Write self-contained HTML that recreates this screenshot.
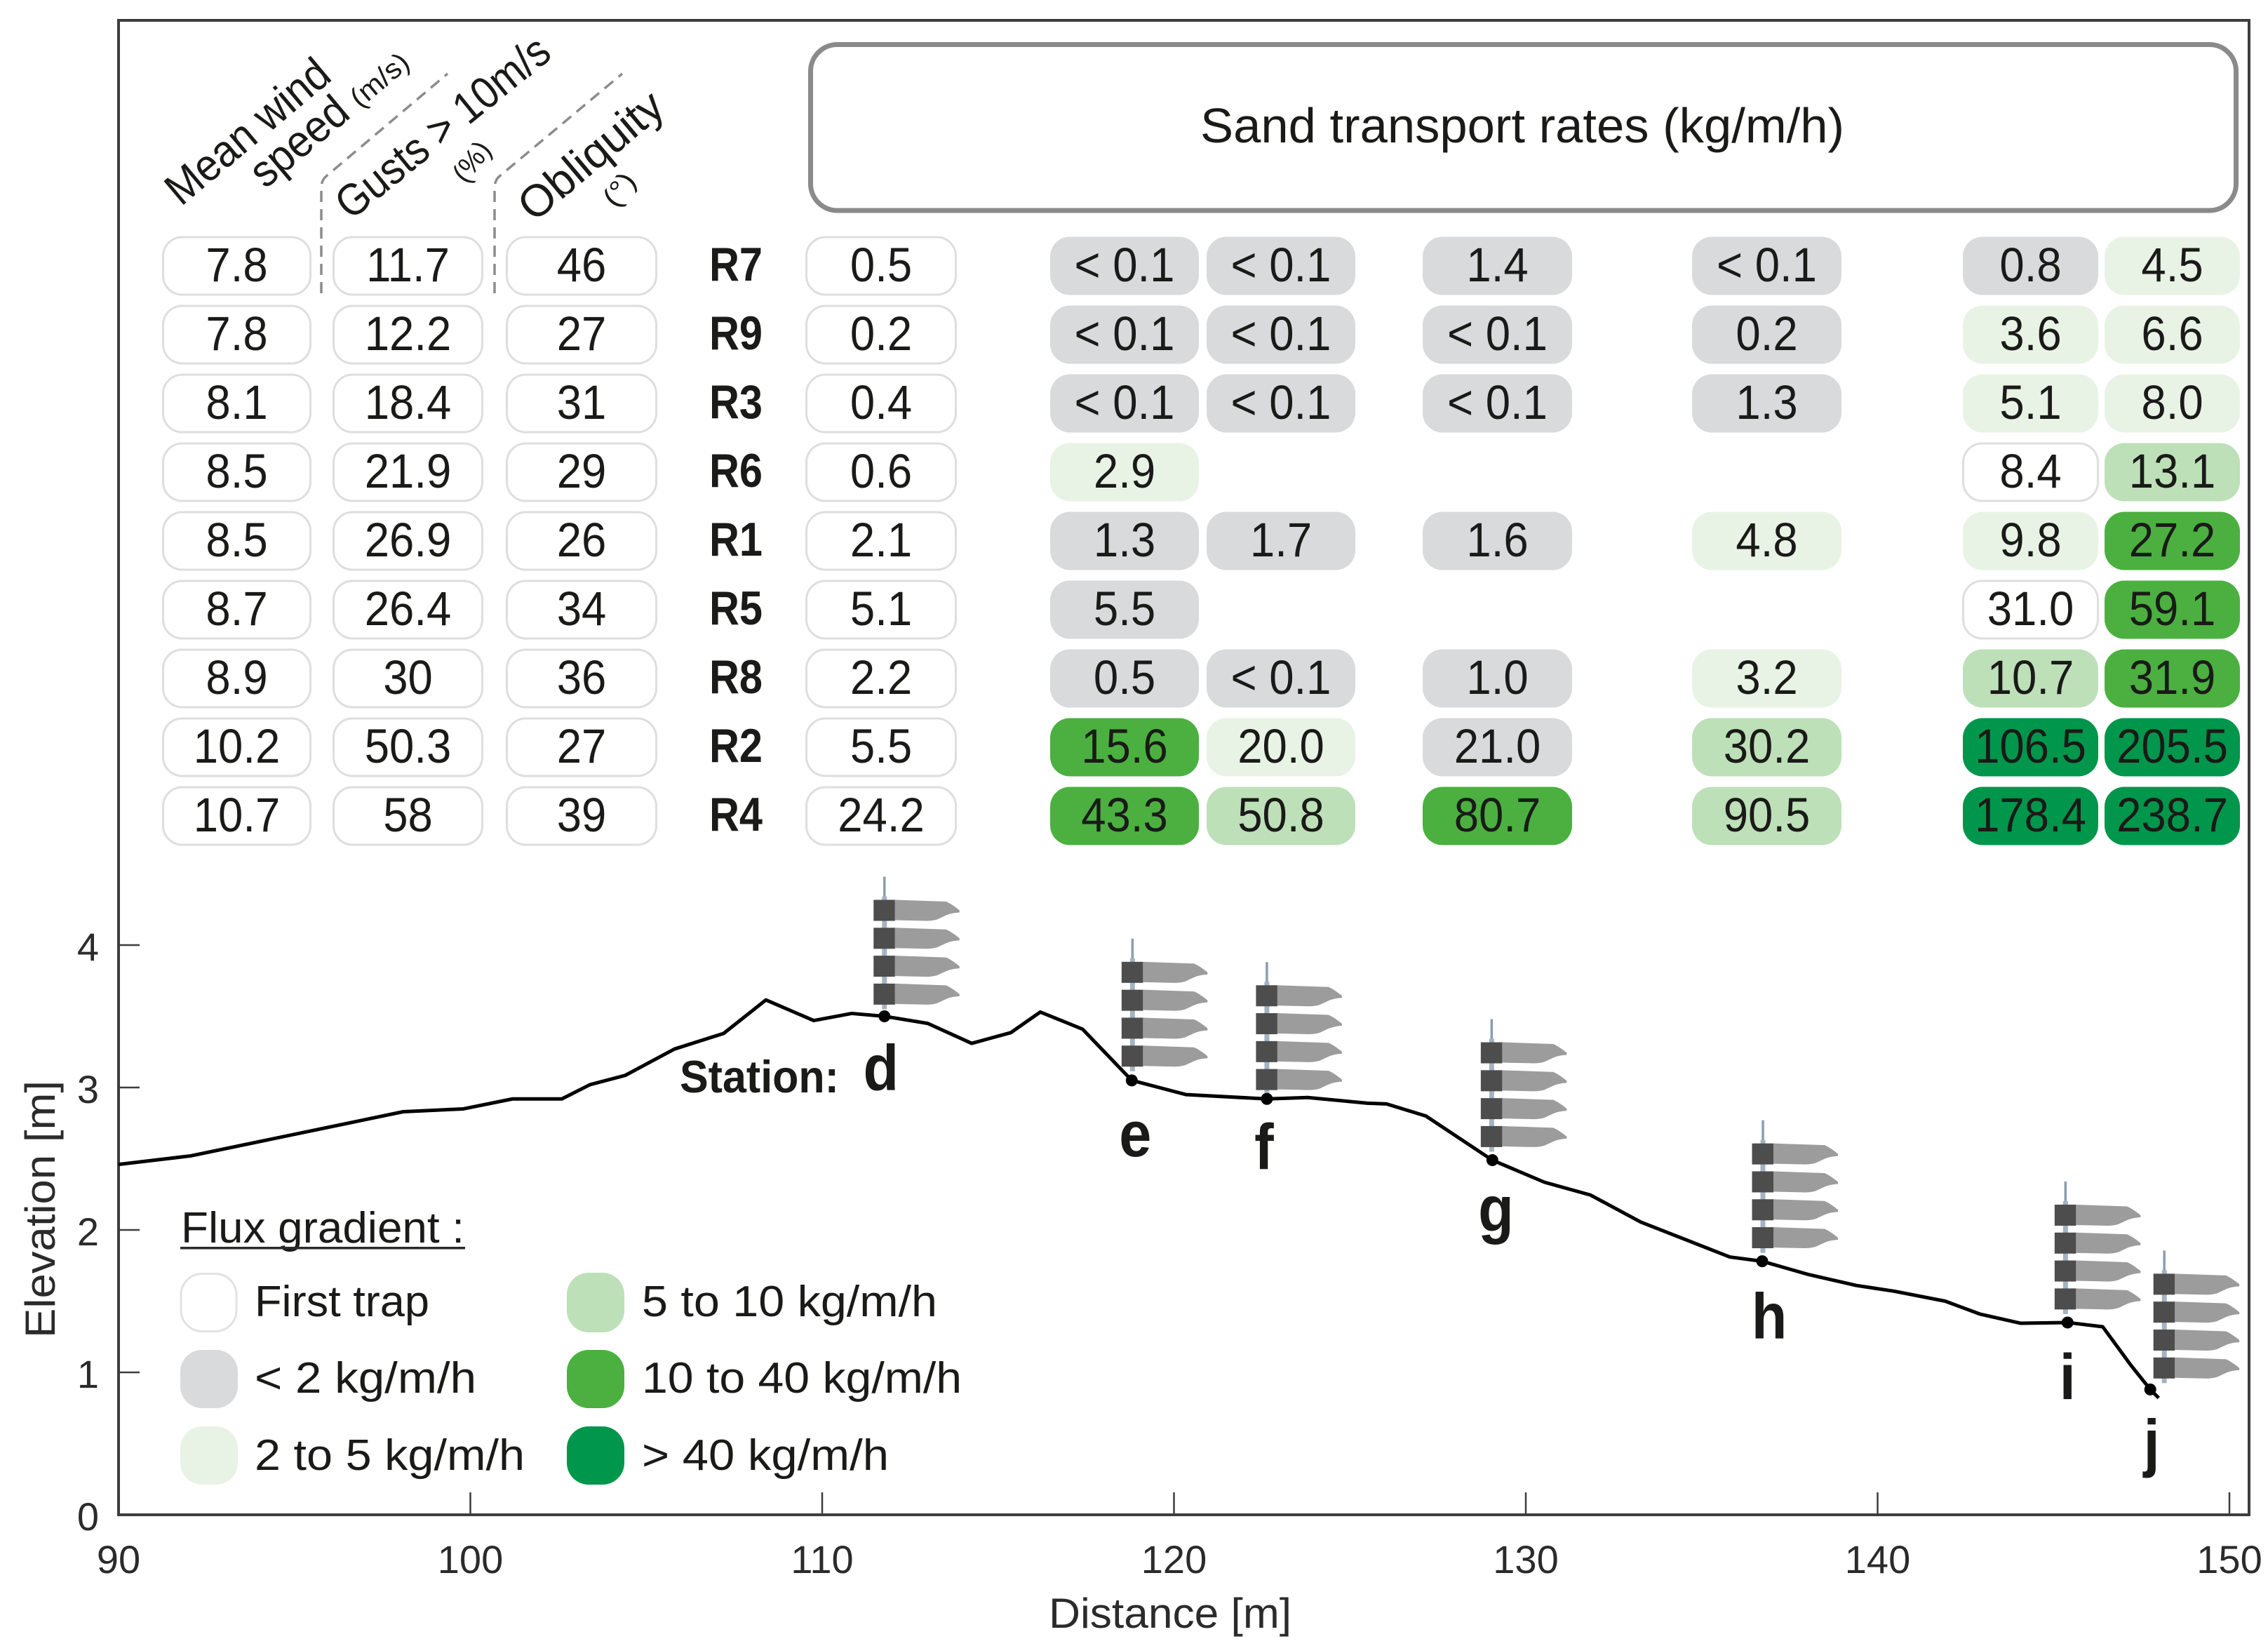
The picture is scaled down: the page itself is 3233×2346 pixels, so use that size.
<!DOCTYPE html>
<html lang="en">
<head>
<meta charset="utf-8">
<title>Sand transport rates along the profile</title>
<style>
  html, body { margin: 0; padding: 0; background: #ffffff; }
  svg { display: block; }
  text { font-family: "Liberation Sans", sans-serif; fill: #1a1a18; }
  .axis-num { font-size: 56px; fill: #2b2b2b; }
  .axis-title { font-size: 60px; fill: #2b2b2b; }
  .head { font-size: 64px; }
  .head-small { font-size: 40px; }
  .legend-text { font-size: 62px; }
</style>
</head>
<body>
<svg id="figure" xmlns="http://www.w3.org/2000/svg" width="3233" height="2346" viewBox="0 0 3233 2346">
  <rect x="0" y="0" width="3233" height="2346" fill="#ffffff"/>

  <!-- Frame -->
  <path d="M169,2159 V29 H3206 V2159 Z" fill="none" stroke="#3d3d3d" stroke-width="4"/>

  <!-- Rotated column headers -->
  <text class="head" transform="translate(258,295) rotate(-40)" textLength="284" lengthAdjust="spacingAndGlyphs">Mean wind</text>
  <text class="head" transform="translate(378,270) rotate(-40)" textLength="162" lengthAdjust="spacingAndGlyphs">speed</text>
  <text class="head-small" transform="translate(513,155) rotate(-40)" textLength="96" lengthAdjust="spacingAndGlyphs">(m/s)</text>
  <text class="head" transform="translate(500,315) rotate(-39)" textLength="372" lengthAdjust="spacingAndGlyphs">Gusts &gt; 10m/s</text>
  <text class="head-small" transform="translate(664,263) rotate(-52)" textLength="62" lengthAdjust="spacingAndGlyphs">(%)</text>
  <text class="head" transform="translate(761,318) rotate(-40)" textLength="248" lengthAdjust="spacingAndGlyphs">Obliquity</text>
  <text class="head-small" transform="translate(878,298) rotate(-52)" textLength="50" lengthAdjust="spacingAndGlyphs">(°)</text>

  <path d="M458,418 V268 Q458,258 464,252 L638,105" fill="none" stroke="#8c8c8c" stroke-width="3.5" stroke-dasharray="16 10"/>
  <path d="M705,418 V268 Q705,258 711,252 L887,105" fill="none" stroke="#8c8c8c" stroke-width="3.5" stroke-dasharray="16 10"/>

  <!-- Sand transport title box -->
  <rect x="1155.5" y="63.5" width="2032" height="236.5" rx="38" ry="38" fill="#ffffff" stroke="#8a8a8a" stroke-width="7"/>
  <text x="1711" y="203" font-size="70" textLength="918" lengthAdjust="spacingAndGlyphs">Sand transport rates (kg/m/h)</text>

  <!-- Table and chart marks, filled by the script -->
  <g id="table"></g>
  <g id="axes"></g>
  <g id="samplers"></g>
  <g id="profile"></g>

  <text x="969" y="1557" font-size="65" font-weight="bold" textLength="227" lengthAdjust="spacingAndGlyphs">Station:</text>

  <text class="axis-title" x="1495" y="2320" textLength="346" lengthAdjust="spacingAndGlyphs">Distance [m]</text>
  <text class="axis-title" transform="translate(78,1907) rotate(-90)" textLength="367" lengthAdjust="spacingAndGlyphs">Elevation [m]</text>

  <!-- Legend -->
  <g>
    <text class="legend-text" x="258" y="1771" textLength="404" lengthAdjust="spacingAndGlyphs">Flux gradient :</text>
    <rect x="257" y="1777" width="406" height="3.5" fill="#2b2b2b"/>

    <g>
      <rect x="258" y="1815.5" width="79" height="82" rx="30" fill="#ffffff" stroke="#e2e2e2" stroke-width="3"/>
      <text class="legend-text" x="363" y="1876" textLength="249" lengthAdjust="spacingAndGlyphs">First trap</text>
    </g>
    <g>
      <rect x="257" y="1924" width="82" height="83" rx="31" fill="#d9dadb"/>
      <text class="legend-text" x="363" y="1985" textLength="316" lengthAdjust="spacingAndGlyphs">&lt; 2 kg/m/h</text>
    </g>
    <g>
      <rect x="257" y="2033" width="82" height="83" rx="31" fill="#e8f3e6"/>
      <text class="legend-text" x="363" y="2095" textLength="385" lengthAdjust="spacingAndGlyphs">2 to 5 kg/m/h</text>
    </g>
    <g>
      <rect x="808" y="1814" width="82" height="85" rx="31" fill="#bde0b8"/>
      <text class="legend-text" x="915" y="1876" textLength="421" lengthAdjust="spacingAndGlyphs">5 to 10 kg/m/h</text>
    </g>
    <g>
      <rect x="808" y="1924" width="82" height="83" rx="31" fill="#4bb040"/>
      <text class="legend-text" x="915" y="1985" textLength="456" lengthAdjust="spacingAndGlyphs">10 to 40 kg/m/h</text>
    </g>
    <g>
      <rect x="808" y="2033" width="82" height="83" rx="31" fill="#00964b"/>
      <text class="legend-text" x="915" y="2095" textLength="352" lengthAdjust="spacingAndGlyphs">&gt; 40 kg/m/h</text>
    </g>
  </g>
</svg>

<script>
// ---- Table data ----
const runLabels = ["R7", "R9", "R3", "R6", "R1", "R5", "R8", "R2", "R4"];
const meanWindSpeed = ["7.8", "7.8", "8.1", "8.5", "8.5", "8.7", "8.9", "10.2", "10.7"];
const gustsOver10 = ["11.7", "12.2", "18.4", "21.9", "26.9", "26.4", "30", "50.3", "58"];
const obliquity = ["46", "27", "31", "29", "26", "34", "36", "27", "39"];
const fluxD = ["0.5", "0.2", "0.4", "0.6", "2.1", "5.1", "2.2", "5.5", "24.2"];
const fluxE = ["< 0.1", "< 0.1", "< 0.1", "2.9", "1.3", "5.5", "0.5", "15.6", "43.3"];
const fluxF = ["< 0.1", "< 0.1", "< 0.1", null, "1.7", null, "< 0.1", "20.0", "50.8"];
const fluxG = ["1.4", "< 0.1", "< 0.1", null, "1.6", null, "1.0", "21.0", "80.7"];
const fluxH = ["< 0.1", "0.2", "1.3", null, "4.8", null, "3.2", "30.2", "90.5"];
const fluxI = ["0.8", "3.6", "5.1", "8.4", "9.8", "31.0", "10.7", "106.5", "178.4"];
const fluxJ = ["4.5", "6.6", "8.0", "13.1", "27.2", "59.1", "31.9", "205.5", "238.7"];

// Flux-gradient class of each cell: 0 first trap, 1 <2, 2 2-5, 3 5-10, 4 10-40, 5 >40
const gradientE = [1, 1, 1, 2, 1, 1, 1, 4, 4];
const gradientF = [1, 1, 1, null, 1, null, 1, 2, 3];
const gradientG = [1, 1, 1, null, 1, null, 1, 1, 4];
const gradientH = [1, 1, 1, null, 2, null, 2, 3, 3];
const gradientI = [1, 2, 2, 0, 2, 0, 3, 5, 5];
const gradientJ = [2, 2, 2, 3, 4, 4, 4, 5, 5];

// ---- Profile data ----
const profileDistance = [90, 92.05, 98.09, 99.8, 101.2, 102.6, 103.4, 104.4, 105.8, 107.2, 108.4, 109.76, 110.84, 111.77, 113, 114.25, 115.36, 116.2, 117.4, 118.8, 120.35, 122.64, 123.8, 125.5, 126.04, 127.16, 129.05, 130.53, 131.84, 133.27, 135.8, 136.72, 138.05, 139.4, 140.47, 141.92, 142.9, 144.06, 145.4, 146.4, 147.2, 147.75, 147.99];
const profileElevation = [2.46, 2.52, 2.83, 2.85, 2.92, 2.92, 3.02, 3.085, 3.27, 3.38, 3.615, 3.47, 3.52, 3.5, 3.45, 3.31, 3.385, 3.53, 3.41, 3.05, 2.95, 2.92, 2.93, 2.89, 2.885, 2.8, 2.49, 2.335, 2.245, 2.055, 1.81, 1.78, 1.686, 1.61, 1.57, 1.5, 1.41, 1.345, 1.35, 1.32, 1.05, 0.88, 0.82];

const stationNames = ["d", "e", "f", "g", "h", "i", "j"];
const stationDistance = [111.77, 118.8, 122.64, 129.05, 136.72, 145.4, 147.75];
const stationElevation = [3.5, 3.05, 2.92, 2.49, 1.78, 1.35, 0.88];

const xTickLabels = [90, 100, 110, 120, 130, 140, 150];
const yTickLabels = [0, 1, 2, 3, 4];

// ---- Axis functions ----
function sx(d) { return 169 + (d - 90) * 50.15; }
function sy(e) { return 2159 - e * 203; }

const NS = "http://www.w3.org/2000/svg";
function make(tag, parent) {
  const el = document.createElementNS(NS, tag);
  parent.appendChild(el);
  return el;
}
function setAll(el, attrs) {
  for (const k in attrs) el.setAttribute(k, attrs[k]);
}

// ---- Table ----
const gradientFill = ["#ffffff", "#d9dadb", "#e8f3e6", "#bde0b8", "#4bb040", "#00964b"];
const tableGroup = document.getElementById("table");

function rowCenter(i) { return 379 + i * 98; }

function drawCell(x0, x1, i, label, cls, name) {
  if (label === null) return;
  const cy = rowCenter(i);
  const g = make("g", tableGroup);
  
  
  const r = make("rect", g);
  
  
  if (cls === 0) {
    setAll(r, { x: x0 + 0.5, y: cy - 41, width: x1 - x0 - 1, height: 82, rx: 27, fill: "#ffffff", stroke: "#dedede", "stroke-width": 3 });
  } else {
    setAll(r, { x: x0, y: cy - 41.5, width: x1 - x0, height: 83, rx: 28, fill: gradientFill[cls] });
  }
  const t = make("text", g);
  
  
  setAll(t, { transform: "translate(" + ((x0 + x1) / 2) + "," + (cy + 22) + ") scale(0.92,1)", "text-anchor": "middle", "font-size": 69 });
  t.textContent = label;
}

const whiteColumns = [
  { from: 232, to: 443, values: meanWindSpeed, name: "mean-wind" },
  { from: 475, to: 688, values: gustsOver10, name: "gusts" },
  { from: 722, to: 936, values: obliquity, name: "obliquity" },
  { from: 1149, to: 1363, values: fluxD, name: "flux-d" }
];
const fluxColumns = [
  { from: 1497, to: 1709, values: fluxE, classes: gradientE, name: "flux-e" },
  { from: 1720, to: 1932, values: fluxF, classes: gradientF, name: "flux-f" },
  { from: 2028, to: 2241, values: fluxG, classes: gradientG, name: "flux-g" },
  { from: 2412, to: 2625, values: fluxH, classes: gradientH, name: "flux-h" },
  { from: 2798, to: 2991, values: fluxI, classes: gradientI, name: "flux-i" },
  { from: 3000, to: 3193, values: fluxJ, classes: gradientJ, name: "flux-j" }
];

whiteColumns.forEach(function (c) {
  c.values.forEach(function (v, i) { drawCell(c.from, c.to, i, v, 0, c.name); });
});
fluxColumns.forEach(function (c) {
  c.values.forEach(function (v, i) { drawCell(c.from, c.to, i, v, c.classes[i], c.name); });
});
runLabels.forEach(function (label, i) {
  const t = make("text", tableGroup);
  
  
  setAll(t, { transform: "translate(1049," + (rowCenter(i) + 21) + ") scale(0.875,1)", "text-anchor": "middle", "font-size": 68, "font-weight": "bold" });
  t.textContent = label;
});

// ---- Axes ----
const axesGroup = document.getElementById("axes");
xTickLabels.forEach(function (v) {
  const x = sx(v);
  const tick = make("line", axesGroup);
  
  
  setAll(tick, { x1: x, x2: x, y1: 2159, y2: 2127, stroke: "#3d3d3d", "stroke-width": 2.5 });
  const t = make("text", axesGroup);
  
  
  setAll(t, { class: "axis-num", x: x, y: 2242, "text-anchor": "middle" });
  t.textContent = v;
});
yTickLabels.forEach(function (v) {
  const y = sy(v);
  const tick = make("line", axesGroup);
  
  
  setAll(tick, { x1: 169, x2: 199, y1: y, y2: y, stroke: "#3d3d3d", "stroke-width": 2.5 });
  const t = make("text", axesGroup);
  
  
  setAll(t, { class: "axis-num", x: 141, y: y + 22, "text-anchor": "end" });
  t.textContent = v;
});

// ---- Sand trap stations ----
const samplerGroup = document.getElementById("samplers");
const tailShape = "M15,0 L88,2.5 Q96,6 107,15 L107,18 Q96,18.5 88,22 L75,28 Q68,30 60,30 L15,29 Z";
// Drawing nudges relative to each station's dot (layout, not data)
const samplerNudge = { d: [0, 199], e: [1, 202], f: [0, 195], g: [-1, 201], h: [1, 201], i: [-3, 201], j: [20, 198] };
const letterNudge = { d: [-5, 105], e: [5, 108], f: [-4, 100], g: [5, 101], h: [10, 110], i: [0, 109], j: [2, 107] };

stationNames.forEach(function (name, s) {
  const cx = sx(stationDistance[s]) + samplerNudge[name][0];
  const top = sy(stationElevation[s]) - samplerNudge[name][1];
  const g = make("g", samplerGroup);
  
  
  g.setAttribute("transform", "translate(" + cx + "," + top + ")");

  const pole = make("rect", g);
  
  
  setAll(pole, { x: -1.75, y: 0, width: 3.5, height: 33, fill: "#8a9db0" });

  const stem = make("rect", g);
  
  
  setAll(stem, { x: -3.5, y: 28, width: 7, height: 161, fill: "#a3b3c2" });

  [0, 1, 2, 3].forEach(function (k) {
    const y = 33 + k * 39.8;
    const tail = make("path", g);
    
    
    setAll(tail, { d: tailShape, transform: "translate(0," + y + ")", fill: "#9c9c9c" });
    const box = make("rect", g);
    
    
    setAll(box, { x: -15.5, y: y, width: 30.5, height: 30, fill: "#4d4d4d" });
  });
});

// ---- Elevation profile ----
const profileGroup = document.getElementById("profile");
const line = make("polyline", profileGroup);


setAll(line, {
  points: profileDistance.map(function (d, i) { return sx(d) + "," + sy(profileElevation[i]); }).join(" "),
  fill: "none", stroke: "#000000", "stroke-width": 5, "stroke-linejoin": "round"
});

stationNames.forEach(function (name, s) {
  const x = sx(stationDistance[s]);
  const y = sy(stationElevation[s]);
  const dot = make("circle", profileGroup);
  
  
  setAll(dot, { cx: x, cy: y, r: 8.5, fill: "#000000" });
  const t = make("text", profileGroup);
  
  
  setAll(t, { transform: "translate(" + (x + letterNudge[name][0]) + "," + (y + letterNudge[name][1]) + ") scale(0.9,1)", "text-anchor": "middle", "font-size": 92, "font-weight": "bold" });
  t.textContent = name;
});
</script>
</body>
</html>
